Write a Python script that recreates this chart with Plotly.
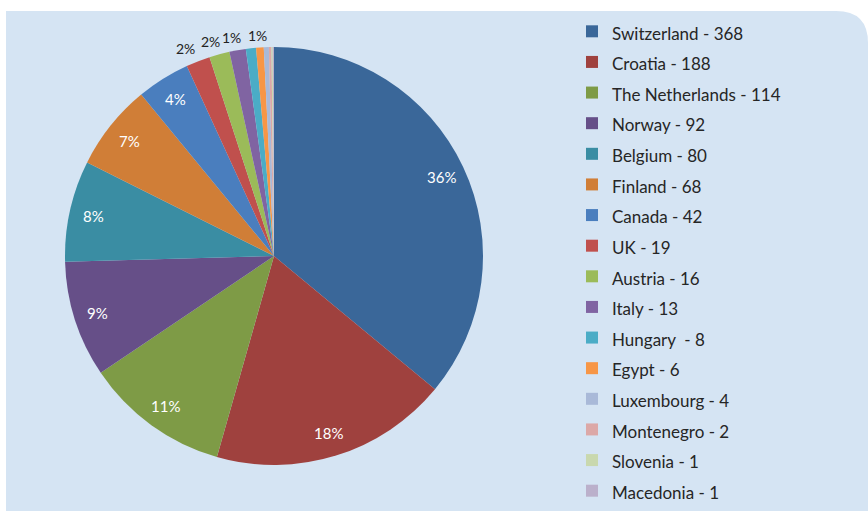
import math
import plotly.graph_objects as go

countries = ["Switzerland", "Croatia", "The Netherlands", "Norway", "Belgium", "Finland",
             "Canada", "UK", "Austria", "Italy", "Hungary ", "Egypt", "Luxembourg",
             "Montenegro", "Slovenia", "Macedonia"]
values = [368, 188, 114, 92, 80, 68, 42, 19, 16, 13, 8, 6, 4, 2, 1, 1]
colors = ["#3A6799", "#9F413E", "#7E9B46", "#664F88", "#3A8DA3", "#D07E37",
          "#4A7EBE", "#C0504D", "#9BBB59", "#8064A2", "#4BACC6", "#F79646",
          "#A9B9D8", "#DCA8A7", "#C9D8AE", "#BBB0CB"]
# label placement for each slice: inside, outside, or hidden
label_mode = ["in"] * 7 + ["out", "out", "out", "none", "out"] + ["none"] * 4

W, H = 868, 511
CX, CY, R = 274, 256, 209  # pie centre / radius in px (from top-left)

legend_labels = [f"<span style='font-size:17px'>{c} - {v}</span>" for c, v in zip(countries, values)]

dom_x = [(CX - R) / W, (CX + R) / W]
dom_y = [(H - CY - R) / H, (H - CY + R) / H]

fig = go.Figure(go.Pie(
    labels=legend_labels,
    values=values,
    marker=dict(colors=colors, line=dict(width=0)),
    sort=False,
    direction="clockwise",
    rotation=0,
    textinfo="none",
    hoverinfo="label+percent",
    domain=dict(x=dom_x, y=dom_y),
))

# percentage labels placed at each slice's mid-angle
total = sum(values)
annotations = []
cum = 0
TW, TH, GAP = 18, 15, 4
for v, mode in zip(values, label_mode):
    mid = (cum + v / 2) / total * 2 * math.pi
    cum += v
    if mode == "none":
        continue
    s, c = math.sin(mid), math.cos(mid)
    if mode == "in":
        rx_ = ry_ = R * 0.885
    else:
        ry_ = R + GAP + abs(s) * TW / 2 + abs(c) * TH / 2
        rx_ = R * 1.17  # outside labels spread horizontally to avoid collisions
    ax = (CX + s * rx_) / W
    ay = (H - CY + c * ry_) / H
    annotations.append(dict(
        x=ax, y=ay, xref="paper", yref="paper", showarrow=False,
        text=f"{round(v / total * 100)}%",
        font=dict(size=15 if mode == "in" else 14, family="Lato",
                  color="white" if mode == "in" else "#222222"),
        xanchor="center", yanchor="middle",
    ))

# light-blue panel with rounded top-right corner (paper coords)
x0, y0 = 6 / W, 0.0
x1, y1 = 1.0, 1 - 11 / H
rx, ry = 32 / W, 32 / H
panel = (f"M {x0},{y0} L {x0},{y1} L {x1 - rx},{y1} "
         f"Q {x1},{y1} {x1},{y1 - ry} L {x1},{y0} Z")

fig.update_layout(
    width=W, height=H,
    margin=dict(l=0, r=0, t=0, b=0),
    paper_bgcolor="white",
    plot_bgcolor="white",
    font=dict(family="Lato", color="#262626"),
    shapes=[dict(type="path", xref="paper", yref="paper", path=panel,
                 fillcolor="#D5E4F3", line=dict(width=0), layer="below")],
    annotations=annotations,
    legend=dict(x=0.659, y=0.964, xanchor="left", yanchor="top",
                bgcolor="rgba(0,0,0,0)", font=dict(size=21.25, family="Lato", color="#262626"),
                itemclick=False),
    showlegend=True,
)

fig.write_html("out.html", config={"displayModeBar": False},
               post_script="document.body.style.margin='0';")
